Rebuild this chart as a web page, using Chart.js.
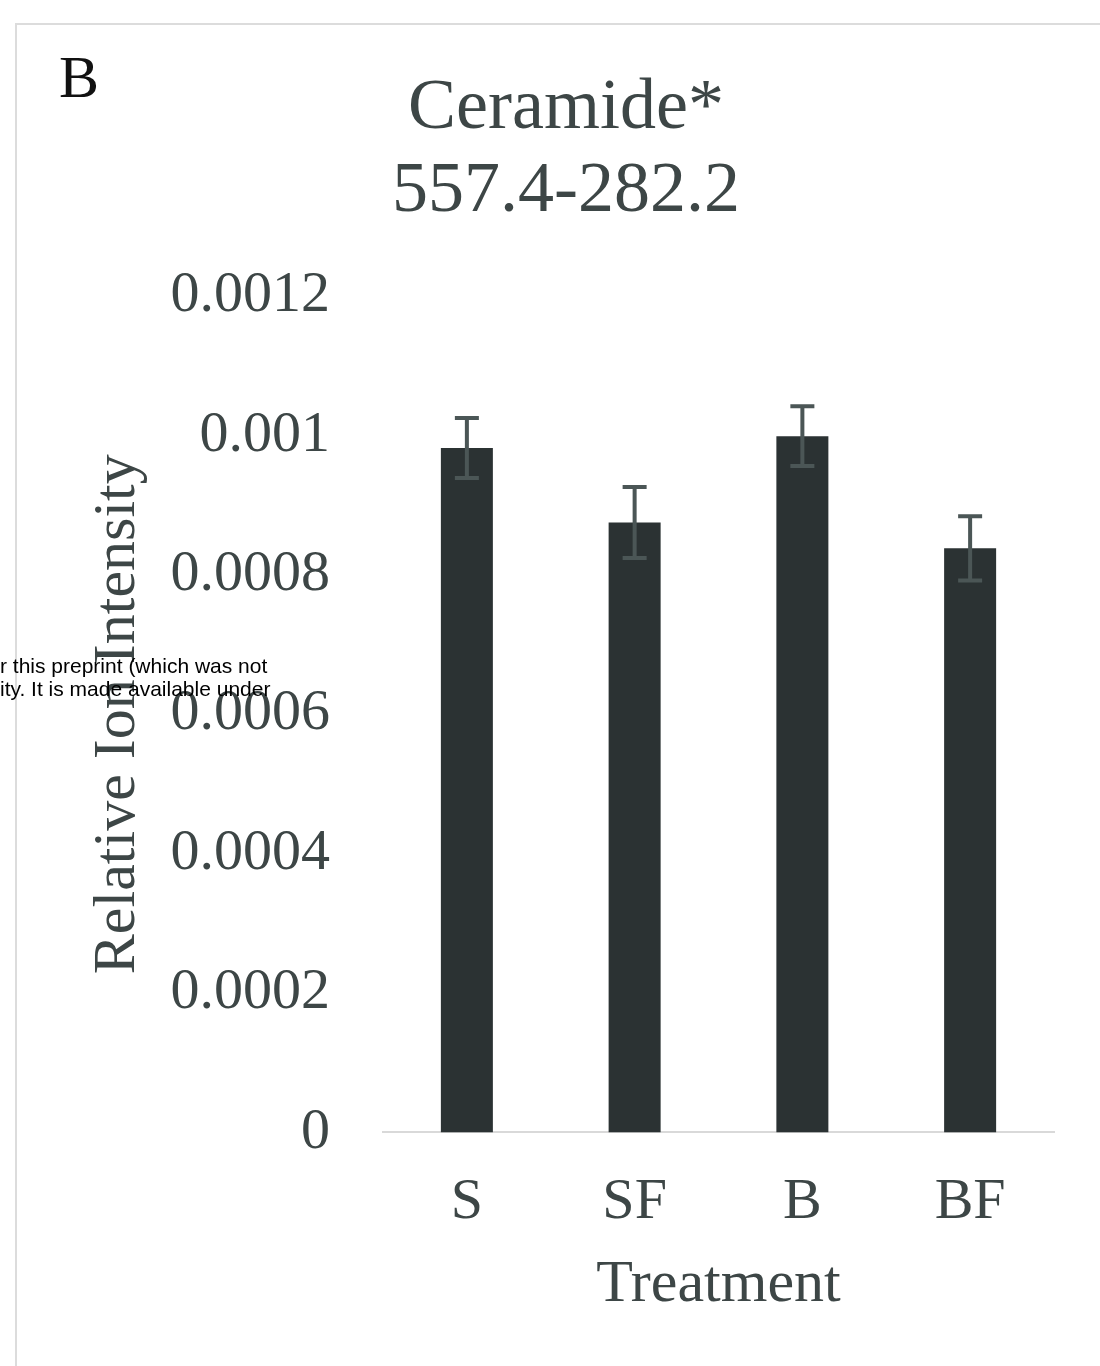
<!DOCTYPE html>
<html>
<head>
<meta charset="utf-8">
<script src="https://cdn.jsdelivr.net/npm/chart.js@4.4.1/dist/chart.umd.min.js"></script>
<style>
  html, body { margin: 0; padding: 0; background: #fff; width: 1100px; height: 1366px; overflow: hidden; }
  #frame { position: absolute; left: 15px; top: 23px; width: 1200px; height: 1400px;
           border-top: 2px solid #dcdcdc; border-left: 2px solid #dcdcdc; }
  #wrap { position: absolute; left: 16px; top: 25px; width: 1102px; height: 1341px; }
  #panel { position: absolute; left: 59px; top: 47px; font: 60px "Liberation Serif"; line-height: 60px; color: #111; }
  #note { position: absolute; left: 0; top: 654px; font: 21px "Liberation Sans"; line-height: 23px; color: #000; white-space: nowrap; z-index: 5; }
</style>
</head>
<body>
<div id="frame"></div>
<div id="wrap"><canvas id="myChart"></canvas></div>
<div id="panel">B</div>
<div id="note">r this preprint (which was not<br>ity. It is made available under</div>
<script>
const categories = ["S", "SF", "B", "BF"];
const intensity = [0.000982, 0.000875, 0.000999, 0.000838];
const errors = [0.000043, 0.000051, 0.000043, 0.000046];
const yTicks = [0, 0.0002, 0.0004, 0.0006, 0.0008, 0.001, 0.0012];

const textColor = "#3d4646";
const serif = "Liberation Serif";

const errorBars = {
  id: "errorBars",
  afterDatasetsDraw(chart)
  {
    const meta = chart.getDatasetMeta(0);
    const y = chart.scales.y;
    const c = chart.ctx;
    c.save();
    c.strokeStyle = "#4b5656";
    c.lineWidth = 4;
    meta.data.forEach((bar, i) => {
      const top = y.getPixelForValue(intensity[i] + errors[i]);
      const bot = y.getPixelForValue(intensity[i] - errors[i]);
      c.beginPath();
      c.moveTo(bar.x, top); c.lineTo(bar.x, bot);
      c.moveTo(bar.x - 12, top); c.lineTo(bar.x + 12, top);
      c.moveTo(bar.x - 12, bot); c.lineTo(bar.x + 12, bot);
      c.stroke();
    });
    c.restore();
  },
};

new Chart(document.getElementById("myChart"), {
  type: "bar",
  data: {
    labels: categories,
    datasets: [{
      data: intensity,
      backgroundColor: "#2b3233",
      categoryPercentage: 1,
      barPercentage: 0.31,
    }],
  },
  plugins: [errorBars],
  options: {
    responsive: true,
    maintainAspectRatio: false,
    animation: false,
    layout: { padding: { left: 62, right: 64, top: 0, bottom: 45 } },
    plugins: {
      legend: { display: false },
      tooltip: { enabled: false },
      title: {
        display: true,
        text: ["Ceramide*", "557.4-282.2"],
        color: textColor,
        font: { family: serif, size: 72, weight: "normal", lineHeight: 1.16 },
        padding: { top: 42, bottom: 62 },
      },
    },
    scales: {
      x: {
        grid: { display: false },
        border: { display: true, color: "#d9d9d9", width: 2 },
        ticks: { color: textColor, font: { family: serif, size: 58 }, padding: 28 },
        title: {
          display: true,
          text: "Treatment",
          color: textColor,
          font: { family: serif, size: 60 },
          padding: { top: -17, bottom: 0 },
        },
      },
      y: {
        min: 0,
        max: 0.0012,
        grid: { display: false },
        border: { display: false },
        afterBuildTicks: (axis) => { axis.ticks = yTicks.map(v => ({ value: v })); },
        afterFit: (axis) => { axis.width = 305; },
        ticks: {
          color: textColor,
          font: { family: serif, size: 58 },
          padding: 45,
          callback: (v) => String(Number(v.toFixed(4))),
        },
        title: {
          display: true,
          text: "Relative Ion Intensity",
          color: textColor,
          font: { family: serif, size: 60 },
          padding: { top: 4, bottom: 0 },
        },
      },
    },
  },
});
</script>
</body>
</html>
